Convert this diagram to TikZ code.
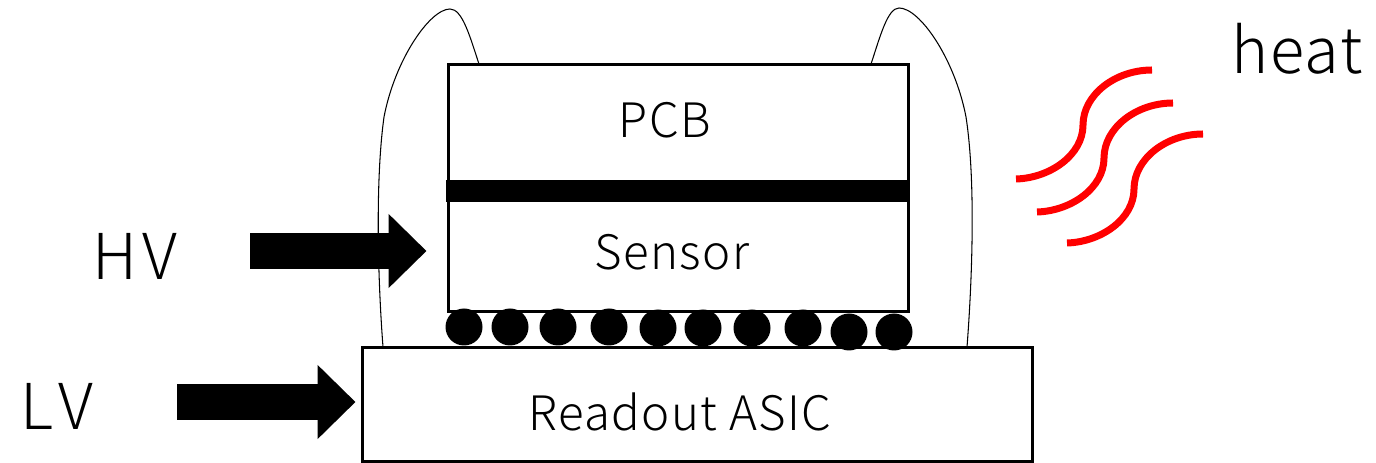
\documentclass[tikz,border=0pt]{standalone}
\usepackage{fontspec}
\setmainfont{Noto Sans CJK JP}[UprightFont=* Light, LetterSpace=3]
\usetikzlibrary{arrows.meta}
\tikzset{
  chipbox/.style={draw, line width=0.06cm, fill=white, inner sep=0pt},
  bump/.style={circle, fill=black, minimum size=0.74cm, inner sep=0pt},
  wire/.style={line width=0.6pt},
  heatline/.style={red, line width=0.14cm},
  bigarrow/.style={line width=0.72cm, -{Triangle[length=0.76cm, width=1.44cm]}},
  smalltext/.style={font=\fontsize{27}{27}\selectfont, inner sep=0pt},
  bigtext/.style={font=\fontsize{36}{36}\selectfont, inner sep=0pt},
  widetext/.style={font=\fontsize{36}{36}\selectfont\addfontfeature{LetterSpace=9, Kerning=Off}, inner sep=0pt}
}
\begin{document}
\begin{tikzpicture}
      \useasboundingbox (0,0) rectangle (27.52,9.24);

      \coordinate (lwirea) at (7.66,2.3);
      \coordinate (lwireb) at (9.58,7.96);
      \coordinate (rwirea) at (19.34,2.3);
      \coordinate (rwireb) at (17.42,7.96);
      \draw [wire] (lwirea) .. controls (7.56,3.6) and (7.5,5.6) .. (7.68,6.9) .. controls (7.9,8.05) and (8.6,9.06) .. (9,9.06) .. controls (9.25,9.06) and (9.4,8.5) .. (lwireb);
      \draw [wire] (rwirea) .. controls (19.44,3.6) and (19.52,5.6) .. (19.32,6.9) .. controls (19.1,8.05) and (18.4,9.08) .. (17.98,9.08) .. controls (17.75,9.08) and (17.6,8.5) .. (rwireb);

      \node [chipbox, minimum width=13.4cm, minimum height=2.26cm] (asic) at (13.94,1.15) {};
      \node [chipbox, minimum width=9.2cm, minimum height=2.5cm] (pcb) at (13.56,6.7) {};
      \node [chipbox, minimum width=9.2cm, minimum height=2.48cm] (sensor) at (13.56,4.24) {};
      \fill (8.92,5.2) rectangle (18.2,5.64);

      \foreach \i/\x/\y in {1/9.28/2.7, 2/10.2/2.7, 3/11.16/2.7, 4/12.18/2.7, 5/13.16/2.68, 6/14.06/2.68, 7/15.04/2.68, 8/16.06/2.68, 9/16.98/2.6, 10/17.88/2.6}
        \node [bump] (bump\i) at (\x,\y) {};

      \node [smalltext] (pcblabel) at (13.3,6.84) {PCB};
      \node [smalltext] (sensorlabel) at (13.44,4.2) {Sensor};
      \node [smalltext] (asiclabel) at (13.6,1) {Readout ASIC};
      \node [widetext] (hvlabel) at (2.7,4.12) {HV};
      \node [widetext] (lvlabel) at (1.14,1.12) {LV};
      \node [bigtext] (heatlabel) at (25.94,8.26) {heat};

      \coordinate (hvtail) at (5,4.22);
      \coordinate (lvtail) at (3.54,1.2);
      \draw [bigarrow, shorten >=0.4cm] (hvtail) -- (hvtail -| sensor.west);
      \draw [bigarrow, shorten >=0.1cm] (lvtail) -- (lvtail -| asic.west);

      \foreach \dx/\dy in {0/0, 0.42/-0.66, 1.02/-1.28}
        \draw [heatline, shift={(\dx,\dy)}] (20.32,5.66) .. controls (21,5.68) and (21.66,6.14) .. (21.66,6.74) .. controls (21.66,7.34) and (22.3,7.84) .. (23.04,7.84);
    \end{tikzpicture}
\end{document}
